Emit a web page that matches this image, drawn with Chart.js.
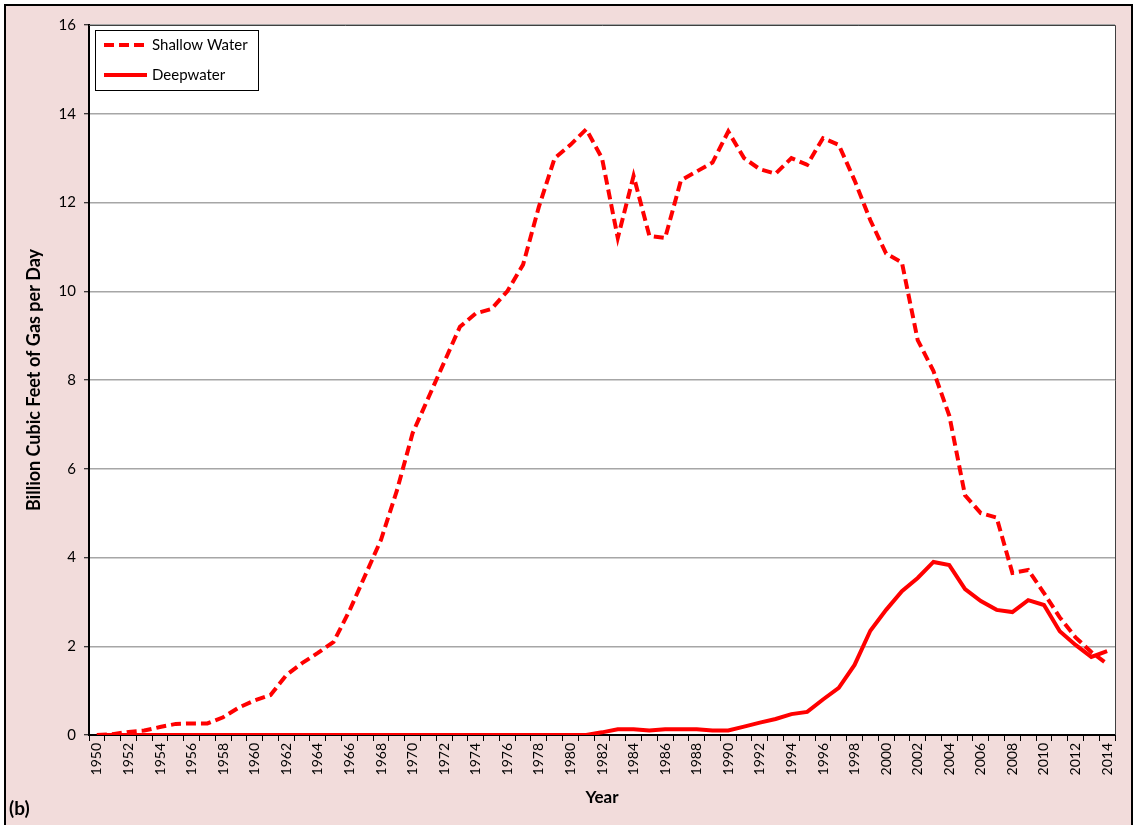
<!DOCTYPE html>
<html lang="en">
  <head>
    <meta charset="UTF-8" />
    <title>Gulf of Mexico gas production</title>
    <script src="https://cdn.jsdelivr.net/npm/chart.js@4.4.1/dist/chart.umd.min.js"></script>
    <style>
      html, body { margin: 0; padding: 0; background: #ffffff; }
      #wrap { width: 1135px; height: 825px; }
    </style>
  </head>
  <body>
    <div id="wrap"><canvas id="Graph" width="1135" height="825"></canvas></div>

    <script>
      // Gas production, billion cubic feet per day
      const years = [];
      for (let y = 1950; y <= 2014; y++) years.push(String(y));

      const shallowWater = [
        0.00, 0.02, 0.07, 0.10, 0.18, 0.25, 0.26, 0.26, 0.40, 0.62,
        0.78, 0.90, 1.35, 1.62, 1.85, 2.10, 2.80, 3.60, 4.40, 5.50,
        6.80, 7.60, 8.40, 9.20, 9.50, 9.60, 10.00, 10.60, 11.90, 13.00,
        13.30, 13.65, 13.00, 11.20, 12.60, 11.25, 11.20, 12.50, 12.70, 12.90,
        13.60, 13.00, 12.75, 12.65, 13.00, 12.85, 13.45, 13.30, 12.50, 11.60,
        10.85, 10.65, 8.90, 8.20, 7.20, 5.40, 5.00, 4.90, 3.65, 3.72,
        3.20, 2.65, 2.20, 1.87, 1.60
      ];

      const deepwater = [
        0, 0, 0, 0, 0, 0, 0, 0, 0, 0,
        0, 0, 0, 0, 0, 0, 0, 0, 0, 0,
        0, 0, 0, 0, 0, 0, 0, 0, 0, 0,
        0, 0.00, 0.06, 0.13, 0.13, 0.10, 0.13, 0.13, 0.13, 0.10,
        0.10, 0.19, 0.28, 0.36, 0.47, 0.52, 0.80, 1.06, 1.58, 2.35,
        2.82, 3.24, 3.54, 3.90, 3.83, 3.29, 3.02, 2.82, 2.77, 3.04,
        2.93, 2.34, 2.03, 1.76, 1.89
      ];

      const yTicks = [0, 2, 4, 6, 8, 10, 12, 14, 16];

      const pink = '#f2dcdb';
      const red = '#ff0000';

      // pink page, white plot area, frame lines
      const framePlugin = {
        id: 'frame',
        beforeDraw(chart) {
          const { ctx, chartArea: a, width, height } = chart;
          ctx.save();
          ctx.fillStyle = '#ffffff';
          ctx.fillRect(0, 0, width, height);
          ctx.fillStyle = pink;
          ctx.fillRect(5, 5, width - 7, height);
          ctx.fillStyle = '#ffffff';
          ctx.fillRect(a.left, a.top, a.right - a.left, a.bottom - a.top);
          ctx.restore();
        },
        afterDraw(chart) {
          const { ctx, chartArea: a, width, height } = chart;
          ctx.save();
          // thin top and right edges of the plot
          ctx.strokeStyle = '#404040';
          ctx.lineWidth = 1;
          ctx.beginPath();
          ctx.moveTo(a.left, a.top + 0.5);
          ctx.lineTo(a.right + 0.5, a.top + 0.5);
          ctx.lineTo(a.right + 0.5, a.bottom);
          ctx.stroke();
          // outer border
          ctx.strokeStyle = '#000000';
          ctx.lineWidth = 2;
          ctx.strokeRect(5, 5, width - 8, height + 10);
          // panel tag
          ctx.fillStyle = '#000000';
          ctx.font = 'bold 19px Lato';
          ctx.textAlign = 'left';
          ctx.textBaseline = 'middle';
          ctx.fillText('(b)', 9, 809);
          ctx.restore();
        }
      };

      // boxed legend in the top-left corner of the plot
      const boxLegend = {
        id: 'boxLegend',
        afterDatasetsDraw(chart) {
          const { ctx, chartArea: a } = chart;
          const x = a.left + 6, y = a.top + 5, w = 163, h = 60;
          ctx.save();
          ctx.fillStyle = '#ffffff';
          ctx.fillRect(x, y, w, h);
          ctx.strokeStyle = '#000000';
          ctx.lineWidth = 1;
          ctx.strokeRect(x + 0.5, y + 0.5, w, h);
          chart.data.datasets.forEach((ds, i) => {
            const ly = y + 15 + i * 30;
            ctx.strokeStyle = ds.borderColor;
            ctx.lineWidth = ds.borderWidth;
            ctx.setLineDash(ds.borderDash || []);
            ctx.beginPath();
            ctx.moveTo(x + 9, ly);
            ctx.lineTo(x + 52, ly);
            ctx.stroke();
            ctx.setLineDash([]);
            ctx.fillStyle = '#000000';
            ctx.font = '15px Lato';
            ctx.textAlign = 'left';
            ctx.textBaseline = 'middle';
            ctx.fillText(ds.label, x + 57, ly);
          });
          ctx.restore();
        }
      };

      const element = document.getElementById('Graph').getContext('2d');
      const Graph = new Chart(element, {
        type: 'line',
        data: {
          labels: years,
          datasets: [
            {
              label: 'Shallow Water',
              data: shallowWater,
              borderColor: red,
              borderWidth: 4,
              borderDash: [10, 5],
              pointRadius: 0,
              tension: 0,
              fill: false
            },
            {
              label: 'Deepwater',
              data: deepwater,
              borderColor: red,
              borderWidth: 4,
              pointRadius: 0,
              tension: 0,
              fill: false
            }
          ]
        },
        options: {
          responsive: false,
          animation: false,
          layout: { padding: { top: 25, right: 20, left: 0, bottom: 0 } },
          plugins: {
            legend: { display: false },
            tooltip: { enabled: false }
          },
          scales: {
            x: {
              offset: true,
              grid: {
                offset: true,
                drawOnChartArea: false,
                tickLength: 6,
                tickColor: '#000000',
                tickWidth: 1
              },
              border: { color: '#000000', width: 2 },
              ticks: {
                autoSkip: false,
                minRotation: 90,
                maxRotation: 90,
                padding: 2,
                color: '#000000',
                font: { family: 'Lato', size: 14 },
                callback: function (v, i) {
                  return i % 2 === 0 ? years[i] : '';
                }
              },
              title: {
                display: true,
                text: 'Year',
                color: '#000000',
                font: { family: 'Lato', size: 17, weight: 'bold' },
                padding: { top: 0, bottom: 17 }
              },
              afterFit(scale) { scale.height = 90; }
            },
            y: {
              min: 0,
              max: 16,
              afterBuildTicks(scale) {
                scale.ticks = yTicks.map(v => ({ value: v }));
              },
              grid: {
                color: '#a6a6a6',
                lineWidth: 1.5,
                tickLength: 5,
                tickColor: '#000000',
                tickWidth: 1
              },
              border: { color: '#000000', width: 2 },
              ticks: {
                padding: 8,
                color: '#000000',
                font: { family: 'Lato', size: 15 }
              },
              title: {
                display: true,
                text: 'Billion Cubic Feet of Gas per Day',
                color: '#000000',
                font: { family: 'Lato', size: 18, weight: 'bold' },
                padding: { top: 23, bottom: 0 }
              },
              afterFit(scale) { scale.width = 89; }
            }
          }
        },
        plugins: [framePlugin, boxLegend]
      });
    </script>
  </body>
</html>
